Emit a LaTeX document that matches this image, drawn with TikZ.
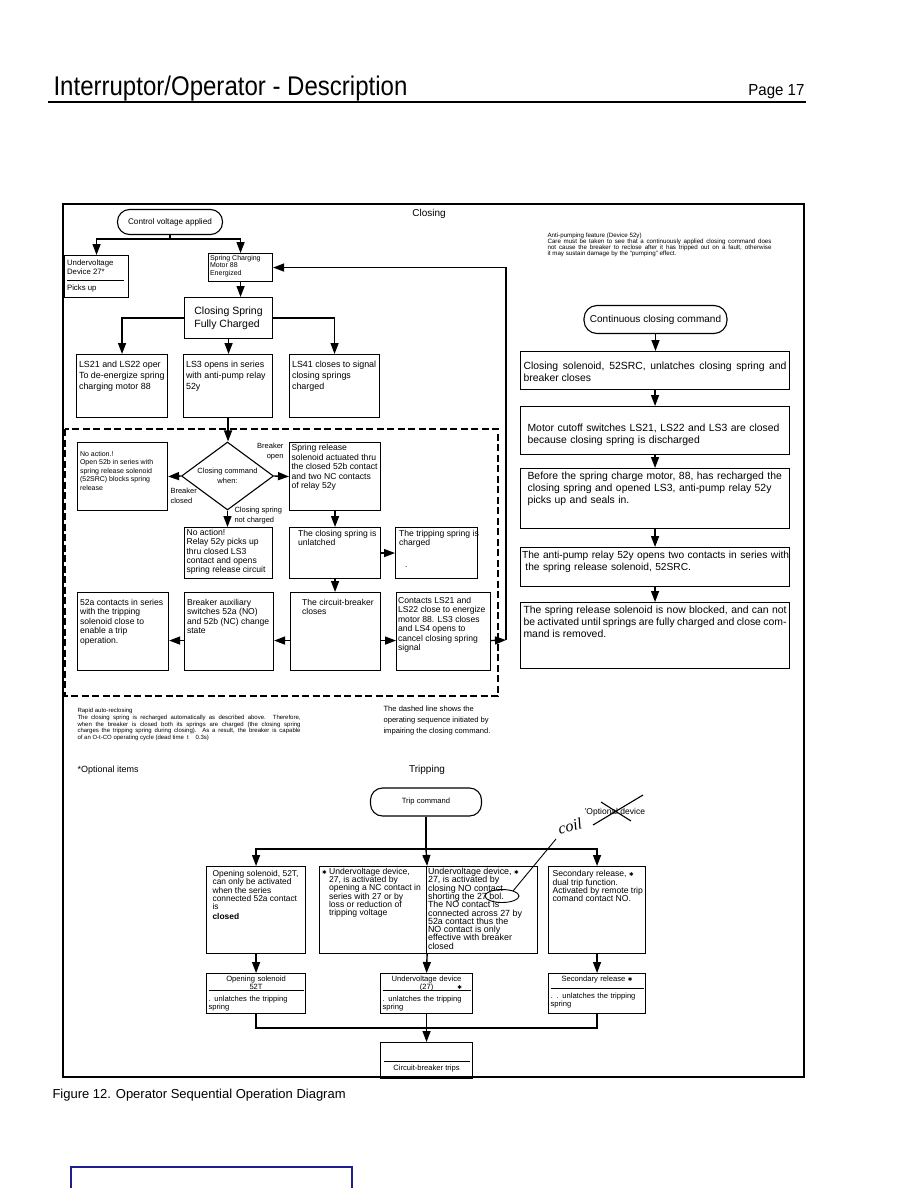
\documentclass[tikz,border=0pt]{standalone}
\usepackage{fontspec}
\setmainfont{Liberation Sans}
\newfontfamily\djv{DejaVu Sans}
\newfontfamily\hand{Liberation Serif}
\usetikzlibrary{arrows.meta}
\usetikzlibrary{shapes.geometric}
\definecolor{navy}{RGB}{30,30,140}
\newcommand{\opt}{{\djv\fontsize{5.5}{5.5}\selectfont\char"2731}}

\begin{document}
\begin{tikzpicture}[x=1pt, y=-1pt, line width=1.1pt,
    >={Triangle[width=8pt,length=11pt]},
    bx/.style 2 args={draw, anchor=north west, minimum width=#1, minimum height=#2, inner sep=0pt},
    tx/.style={anchor=north west, align=left, inner sep=2.5pt, font=\fontsize{8.6}{9.5}\selectfont},
    rtx/.style={tx, text width=263, align=justify, inner sep=3pt, font=\fontsize{10.4}{12}\selectfont},
    ttx/.style={tx, inner sep=2pt, font=\fontsize{8.6}{8.3}\selectfont},
    btx/.style={tx, inner sep=2pt, font=\fontsize{7.6}{8}\selectfont},
    trm/.style={draw, rounded corners=12pt, inner sep=2pt},
    wire/.style={line width=1.4pt}]

  \useasboundingbox (0,0) rectangle (909,1188);
  \fill[white] (0,0) rectangle (909,1188);

  % page head
  \node[anchor=base west, inner sep=0pt] (title) at (53,96) {\scalebox{0.89}[1]{\fontsize{27}{27}\selectfont Interruptor/Operator - Description}};
  \node[anchor=base east, inner sep=0pt] (page) at (805,96) {\scalebox{0.94}[1]{\fontsize{16}{16}\selectfont Page 17}};
  \draw[line width=2.2pt] (48,102) -- (806,102);

  \draw[line width=1.2pt] (63,204) rectangle (804,1077);

  % closing
  \node[font=\fontsize{10}{12}\selectfont] (closing) at (429,214) {Closing};
  \node[trm, minimum width=105, minimum height=25, font=\fontsize{8.2}{9}\selectfont] (ctrl) at (170,222) {Control voltage applied};

  \node[bx={64}{42}, label={[tx, font=\fontsize{7.8}{9}\selectfont, yshift=-2]north west:{Undervoltage\\Device 27*\\[-3pt]\rule{57pt}{0.9pt}\\[0.5pt]Picks up}}] (uv) at (64,255) {};
  \node[bx={64}{28}, label={[tx, font=\fontsize{7}{7.6}\selectfont, inner sep=1.5pt]north west:{Spring Charging\\Motor 88\\Energized}}] (spring) at (208,253) {};
  \node[bx={88}{41}, align=left, font=\fontsize{10.5}{12.5}\selectfont] (full) at (184,297) {Closing Spring\\Fully Charged};

  \coordinate (cj) at (170,239);
  \draw[wire] (ctrl.south) -- (cj);
  \draw[wire,->] (cj) -| (uv.north);
  \draw[wire,->] (cj) -| (spring.north);
  \draw[wire,->] (spring.south) -- (spring.south |- full.north);

  \node[bx={91}{63}, label={[tx, font=\fontsize{8.9}{11}\selectfont, yshift=-4]north west:{LS21 and LS22 oper\\To de-energize spring\\charging motor 88}}] (ls21) at (76,354) {};
  \node[bx={89}{63}, label={[tx, font=\fontsize{8.9}{11}\selectfont, yshift=-4]north west:{LS3 opens in series\\with anti-pump relay\\52y}}] (ls3) at (183,354) {};
  \node[bx={90}{63}, label={[tx, font=\fontsize{8.9}{11}\selectfont, yshift=-4]north west:{LS41 closes to signal\\closing springs\\charged}}] (ls41) at (289,354) {};

  \draw[wire,->] (full.west) -| (ls21.north);
  \draw[wire,->] (full.east) -| (ls41.north);
  \draw[wire,->] (full.south) -- (full.south |- ls3.north);

  % sequence when the closing command is impaired
  \draw[line width=1.4pt, dash pattern=on 7pt off 3.5pt] (65,429) rectangle (498,696);

  \node[draw, diamond, aspect=1.35, minimum width=92, minimum height=68, inner sep=0pt, align=center, font=\fontsize{7.5}{9.5}\selectfont] (dia) at (227.5,476) {Closing command\\when:};
  \draw[wire,->] (ls3.south) -- (ls3.south |- dia.north);

  \node[anchor=north east, align=right, inner sep=0pt, font=\fontsize{7.5}{10}\selectfont] (bopen) at (284,443) {Breaker\\open};
  \node[anchor=north west, align=left, inner sep=0pt, font=\fontsize{7.5}{10}\selectfont] (bclosed) at (170,488) {Breaker\\closed};
  \node[anchor=north west, align=left, inner sep=0pt, font=\fontsize{7.5}{9.5}\selectfont] (nochg) at (234,507) {Closing spring\\not charged};

  \node[bx={90}{68}, label={[tx, font=\fontsize{7}{8.6}\selectfont, yshift=-6]north west:{No action.!\\Open 52b in series with\\spring release solenoid\\(52SRC) blocks spring\\release}}] (na1) at (77,442) {};
  \node[bx={91}{68}, label={[tx, inner sep=2pt]north west:{Spring release\\solenoid actuated thru\\the closed 52b contact\\and two NC contacts\\of relay 52y}}] (sr) at (289,442) {};
  \draw[wire,->] (dia.west) -- (na1.east);
  \draw[wire,->] (dia.east) -- (sr.west);

  \node[bx={88}{51}, label={[tx, font=\fontsize{8.6}{9.2}\selectfont, inner sep=2pt]north west:{No action!\\Relay 52y picks up\\thru closed LS3\\contact and opens\\spring release circuit}}] (na2) at (184,527) {};
  \node[bx={91}{51}, label={[tx, xshift=6]north west:{The closing spring is\\unlatched}}] (cs) at (289,527) {};
  \node[bx={82}{51}, label={[tx, xshift=1]north west:{The tripping spring is\\charged\\[12pt]\hspace*{6pt}.}}] (ts) at (395,527) {};
  \draw[wire,->] (dia.south) -- (dia.south |- na2.north);
  \draw[wire,->] (sr.south) -- (sr.south |- cs.north);
  \draw[wire,->] (cs.east) -- (cs.east -| ts.west);

  \node[bx={91}{78}, label={[tx, yshift=-4]north west:{52a contacts in series\\with the tripping\\solenoid close to\\enable a trip\\operation.}}] (c52a) at (77,592) {};
  \node[bx={89}{78}, label={[tx, yshift=-4]north west:{Breaker auxiliary\\switches 52a (NO)\\and 52b (NC) change\\state}}] (aux) at (184,592) {};
  \node[bx={90}{78}, label={[tx, yshift=-4, xshift=9]north west:{The circuit-breaker\\closes}}] (cbc) at (290,592) {};
  \node[bx={94}{78}, label={[tx, yshift=-3, inner sep=1.5pt]north west:{Contacts LS21 and\\LS22 close to energize\\motor 88. LS3 closes\\and LS4 opens to\\cancel closing spring\\signal}}] (cnt) at (396,592) {};

  \draw[wire,->] (cs.south) -- (cs.south |- cbc.north);
  \draw[wire,->] ([yshift=-9pt]cbc.west) -- ([yshift=-9pt]aux.east);
  \draw[wire,->] ([yshift=-9pt]aux.west) -- ([yshift=-9pt]c52a.east);
  \draw[wire,->] ([yshift=-9pt]cbc.east) -- ([yshift=-9pt]cnt.west);
  \coordinate (ret) at (506,640);
  \draw[wire,->] ([yshift=-9pt]cnt.east) -- (ret);
  \draw[wire,->] (ret) |- (spring.east);

  % anti-pumping
  \node[anchor=north west, align=left, inner sep=0pt, font=\fontsize{6.2}{6.1}\selectfont] (anti) at (547,232) {Anti-pumping feature (Device 52y)\\\hbox to 224pt{Care must be taken to see that a continuously applied closing command does}\\\hbox to 224pt{not cause the breaker to reclose after it has tripped out on a fault, otherwise}\\it may sustain damage by the ``pumping'' effect.};

  \node[trm, minimum width=143, minimum height=28, rounded corners=13pt, font=\fontsize{10}{12}\selectfont] (cont) at (655.5,319.5) {Continuous closing command};

  \node[bx={269}{38}, label={[rtx, yshift=-7]north west:{Closing solenoid, 52SRC, unlatches closing spring and\linebreak breaker closes}}] (r1) at (520,351) {};
  \node[bx={269}{48}, label={[rtx, align=left, yshift=-14, xshift=4]north west:{Motor cutoff switches LS21, LS22 and LS3 are closed\\because closing spring is discharged}}] (r2) at (520,406) {};
  \node[bx={269}{60}, label={[rtx, align=left, xshift=4]north west:{Before the spring charge motor, 88, has recharged the\\closing spring and opened LS3, anti-pump relay 52y\\picks up and seals in.}}] (r3) at (520,468) {};
  \node[bx={269}{39}, label={[rtx, align=left, text width=275, inner sep=1.5pt, yshift=-2, font=\fontsize{10.2}{12}\selectfont]north west:{The anti-pump relay 52y opens two contacts in series with\\\ the spring release solenoid, 52SRC.}}] (r4) at (520,547) {};
  \node[bx={269}{66}, label={[rtx]north west:{The spring release solenoid is now blocked, and can not\linebreak be activated until springs are fully charged and close com-\\mand is removed.}}] (r5) at (520,602) {};

  \draw[wire,->] (cont.south) -- (cont.south |- r1.north);
  \draw[wire,->] (r1.south) -- (r2.north);
  \draw[wire,->] (r2.south) -- (r3.north);
  \draw[wire,->] (r3.south) -- (r4.north);
  \draw[wire,->] (r4.south) -- (r5.north);

  % notes
  \node[anchor=north west, align=left, inner sep=0pt, font=\fontsize{6}{5.4}\selectfont] (rapid) at (77,708) {Rapid auto-reclosing\\\hbox to 223pt{The closing spring is recharged automatically as described above. Therefore,}\\\hbox to 223pt{when the breaker is closed both its springs are charged (the closing spring}\\\hbox to 223pt{charges the tripping spring during closing). As a result, the breaker is capable}\\of an O-t-CO operating cycle (dead time\ \ t\ \ \ \ 0.3s)};
  \node[anchor=north west, align=left, inner sep=0pt, font=\fontsize{7.6}{11}\selectfont] (dnote) at (383,705) {The dashed line shows the\\operating sequence initiated by\\impairing the closing command.};

  \node[anchor=west, inner sep=0pt, font=\fontsize{9}{10}\selectfont] (optitems) at (77,770) {*Optional items};

  % tripping
  \node[font=\fontsize{10}{12}\selectfont] (tripping) at (427,770) {Tripping};
  \node[trm, minimum width=111, minimum height=28, font=\fontsize{7.6}{8}\selectfont] (trip) at (426,802) {Trip command};

  \node[bx={99}{87}, label={[ttx, xshift=4, yshift=-2, font=\fontsize{8.4}{8.3}\selectfont]north west:{Opening solenoid, 52T,\\can only be activated\\when the series\\connected 52a contact\\is\\[1.5pt]{\bfseries closed}}}] (os) at (206,866) {};
  \node[bx={107}{87}, label={[ttx, xshift=8, inner sep=1.5pt]north west:{\llap{\opt\ }Undervoltage device,\\27, is activated by\\opening a NC contact in\\series with 27 or by\\loss or reduction of\\tripping voltage}}] (uva) at (319,866) {};
  \node[bx={111}{87}, label={[ttx, inner sep=1.5pt, font=\fontsize{8.9}{8.3}\selectfont]north west:{Undervoltage device, \opt\\27, is activated by\\closing NO contact\\shorting the 27 bol.\\The NO contact is\\connected across 27 by\\52a contact thus the\\NO contact is only\\effective with breaker\\closed}}] (uvb) at (426,866) {};
  \node[bx={97}{87}, label={[ttx, xshift=2, yshift=-2]north west:{Secondary release, \opt\\dual trip function.\\Activated by remote trip\\comand contact NO.}}] (sec) at (548,866) {};

  \coordinate (tj) at (426,849);
  \draw[wire] (trip.south) -- (tj);
  \draw[wire,->] (tj) -| (os.north);
  \draw[wire,->] (tj) -| (sec.north);
  \draw[wire,->] (tj) -- (uva.north east);

  \node[bx={99}{40}, label={[btx, text width=95]north west:{{\centering Opening solenoid\\52T\endgraf}\vspace{-6pt}\rule{95pt}{0.8pt}\endgraf\vspace{2pt}. unlatches the tripping\\spring}}] (os2) at (206,973) {};
  \node[bx={92}{40}, label={[btx, text width=88]north west:{{\centering Undervoltage device\\(27)\rlap{\hspace{24pt}\opt}\endgraf}\vspace{-6pt}\rule{88pt}{0.8pt}\endgraf\vspace{2pt}. unlatches the tripping\\spring}}] (uv2) at (380,973) {};
  \node[bx={97}{40}, label={[btx, text width=93]north west:{\vspace*{3pt}{\centering Secondary release \opt\endgraf}\vspace{-3pt}\rule{93pt}{0.8pt}\endgraf\vspace{1.5pt}. . unlatches the tripping\\spring}}] (sec2) at (548,973) {};

  \draw[wire,->] (os.south) -- (os2.north);
  \draw[wire,->] (uva.south east) -- (uv2.north);
  \draw[wire,->] (sec.south) -- (sec2.north);

  \node[bx={92}{36}, label={[anchor=north, inner sep=0pt, yshift=-18, align=center, font=\fontsize{7.6}{8}\selectfont]north:{\rule{86pt}{0.8pt}\\[1pt]Circuit-breaker trips}}] (cbt) at (380,1042) {};
  \coordinate (bj) at (426,1028);
  \draw[wire] (os2.south) |- (bj);
  \draw[wire] (sec2.south) |- (bj);
  \draw[wire,->] (uv2.south) -- (cbt.north);

  % hand-written marks
  \node[rotate=14, inner sep=0pt, font=\hand\itshape\fontsize{16}{16}\selectfont] (coil) at (570,826) {coil};
  \draw[line width=0.9pt] (556,839) -- (513,891);
  \draw[line width=0.9pt] (502,896) ellipse [x radius=17, y radius=6.5];
  \node[anchor=west, inner sep=0pt, font=\fontsize{8.5}{9}\selectfont] (optdev) at (584,812) {'Optional device};
  \draw[line width=1.1pt] (593,825) -- (643,795);
  \draw[line width=1.1pt] (601,802) -- (631,821);

  % caption
  \node[anchor=base west, inner sep=0pt, font=\fontsize{13}{15}\selectfont] (caption) at (52,1098) {Figure 12. Operator Sequential Operation Diagram};
  \draw[navy, line width=2pt] (71,1167) rectangle (352,1195);
\end{tikzpicture}
\end{document}
